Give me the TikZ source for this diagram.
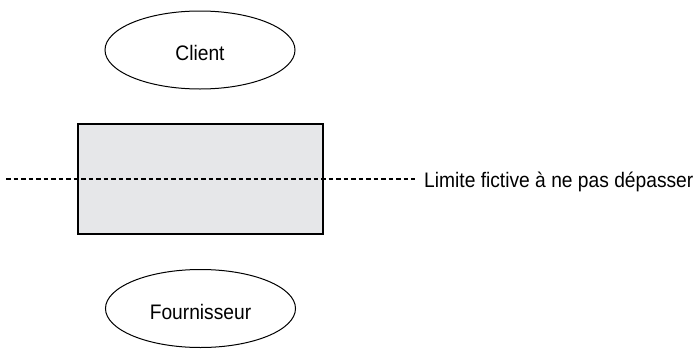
\documentclass[tikz,border=0pt]{standalone}
\usepackage{fontspec}
\setmainfont{Liberation Sans}[FakeStretch=0.915]
\usetikzlibrary{shapes.geometric,positioning}
\definecolor{boxgray}{RGB}{230,231,233}

\begin{document}
\begin{tikzpicture}[x=1pt,y=-1pt,
    every node/.style={font=\fontsize{21}{25}\selectfont},
    acteur/.style={draw,ellipse,line width=1pt,minimum width=190pt,minimum height=78pt,
      inner sep=0pt,text height=21pt,text depth=0pt},
    bloc/.style={draw,fill=boxgray,line width=1.1pt,minimum width=245pt,minimum height=110pt}]
  \useasboundingbox (0,0) rectangle (694,349);

  \node [acteur] (client) at (200,50) {Client};
  \node [bloc] (systeme) at (200.5,179) {};
  \node [acteur] (fournisseur) at (200.5,308.5) {Fournisseur};

  % limite
  \coordinate (debut) at (6,179);
  \coordinate (fin) at (415,179);
  \node [right=9pt of fin,inner sep=0pt,anchor=base west,yshift=-8pt] (limite) {Limite fictive à ne pas dépasser};
  \draw[line width=1.1pt,dash pattern=on 4.5pt off 3pt] (debut) -- (fin);
\end{tikzpicture}
\end{document}
